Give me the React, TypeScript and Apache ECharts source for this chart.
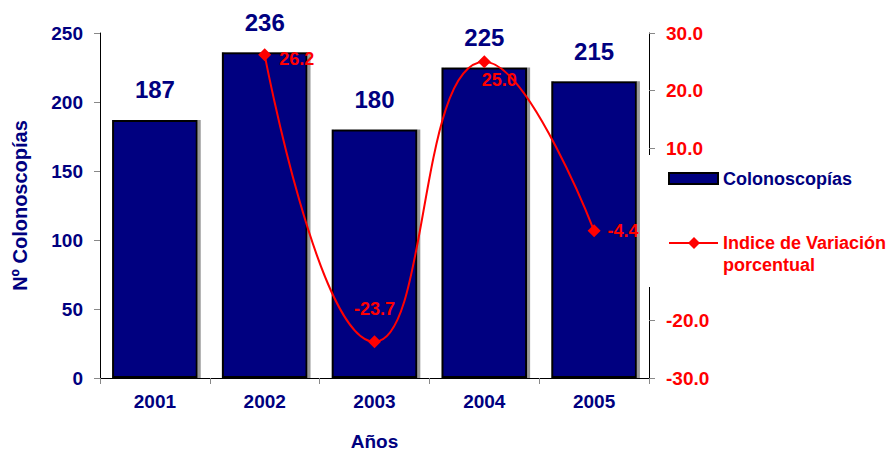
import React, { useEffect, useRef } from "react";
import * as echarts from "echarts";

const years = ["2001", "2002", "2003", "2004", "2005"];
const colonoscopias = [187, 236, 180, 225, 215];
const variacion: (number | null)[] = [null, 26.2, -23.7, 25.0, -4.4];
const leftTicks = { min: 0, max: 250, interval: 50 };
const rightTicks = { min: -30, max: 30, interval: 10 };

const NAVY = "#000080";
const RED = "#ff0000";
const FONT = "Liberation Sans, Arial, sans-serif";

export default function App() {
  const ref = useRef<HTMLDivElement>(null);
  useEffect(() => {
    if (!ref.current) return;
    document.body.style.margin = "0";
    document.body.style.overflow = "hidden";
    const chart = echarts.init(ref.current, undefined, { renderer: "svg" });
    const lineLabelPos: any[] = [
      {},
      { position: "right", distance: 8, offset: [0, 4] },
      { position: "top", distance: 17 },
      { position: "bottom", distance: 3, offset: [15, 0] },
      { position: "right", distance: 7 },
    ];
    chart.setOption({
      animation: false,
      backgroundColor: "#ffffff",
      textStyle: { fontFamily: FONT },
      grid: { left: 100, right: 244, top: 33, bottom: 75, outerBoundsMode: "none" },
      xAxis: {
        type: "category",
        data: years,
        name: "Años",
        nameLocation: "middle",
        nameGap: 54,
        nameTextStyle: { color: NAVY, fontWeight: "bold", fontSize: 19, fontFamily: FONT },
        axisLine: { lineStyle: { color: "#000", width: 1 } },
        axisTick: { show: true, length: 6, lineStyle: { color: "#888" } },
        axisLabel: { color: NAVY, fontWeight: "bold", fontSize: 19, margin: 14, fontFamily: FONT },
      },
      yAxis: [
        {
          type: "value",
          min: leftTicks.min,
          max: leftTicks.max,
          interval: leftTicks.interval,
          name: "Nº Colonoscopías",
          nameLocation: "middle",
          nameGap: 70,
          nameRotate: 90,
          nameTextStyle: { color: NAVY, fontWeight: "bold", fontSize: 20, fontFamily: FONT },
          axisLine: { show: true, lineStyle: { color: "#000", width: 1 } },
          axisTick: { show: true, length: 6, lineStyle: { color: "#888" } },
          axisLabel: { color: NAVY, fontWeight: "bold", fontSize: 19, margin: 17, fontFamily: FONT },
          splitLine: { show: false },
        },
        {
          type: "value",
          position: "right",
          min: rightTicks.min,
          max: rightTicks.max,
          interval: rightTicks.interval,
          axisLine: { show: true, lineStyle: { color: "#000", width: 1 } },
          axisTick: { show: true, length: 6, lineStyle: { color: "#888" } },
          axisLabel: {
            color: RED,
            fontWeight: "bold",
            fontSize: 19,
            margin: 17,
            fontFamily: FONT,
            formatter: (v: number) => v.toFixed(1),
          },
          splitLine: { show: false },
        },
      ],
      series: [
        {
          name: "Colonoscopías",
          type: "bar",
          yAxisIndex: 0,
          data: colonoscopias,
          barCategoryGap: "22%",
          itemStyle: {
            color: NAVY,
            borderColor: "#000",
            borderWidth: 2,
            shadowColor: "#999",
            shadowOffsetX: 3,
            shadowOffsetY: 0,
            shadowBlur: 0,
          },
          label: {
            show: true,
            position: "top",
            distance: 18,
            color: NAVY,
            fontWeight: "bold",
            fontSize: 24,
            fontFamily: FONT,
          },
          z: 2,
        },
        {
          name: "Indice de Variación porcentual",
          type: "line",
          yAxisIndex: 1,
          smooth: 0.5,
          data: variacion.map((v, i) => ({ value: v, label: lineLabelPos[i] })),
          symbol: "diamond",
          symbolSize: 13,
          lineStyle: { color: RED, width: 2 },
          itemStyle: { color: RED },
          label: {
            show: true,
            color: RED,
            fontWeight: "bold",
            fontSize: 18,
            fontFamily: FONT,
            formatter: (p: any) => (p.value == null ? "" : Number(p.value).toFixed(1)),
          },
          z: 3,
        },
      ],
      graphic: [
        { type: "rect", z: 100, shape: { x: 641, y: 155, width: 252, height: 132 }, style: { fill: "#ffffff" } },
        {
          type: "rect",
          z: 101,
          shape: { x: 669, y: 173, width: 49, height: 11 },
          style: { fill: NAVY, stroke: "#000", lineWidth: 2 },
        },
        {
          type: "text",
          z: 101,
          x: 723,
          y: 179,
          style: {
            text: "Colonoscopías",
            fill: NAVY,
            font: `bold 18px ${FONT}`,
            verticalAlign: "middle",
          },
        },
        {
          type: "line",
          z: 101,
          shape: { x1: 669, y1: 243, x2: 718, y2: 243 },
          style: { stroke: RED, lineWidth: 2 },
        },
        {
          type: "polygon",
          z: 102,
          shape: { points: [[694, 237], [700, 243], [694, 249], [688, 243]] },
          style: { fill: RED },
        },
        {
          type: "text",
          z: 101,
          x: 723,
          y: 243,
          style: {
            text: "Indice de Variación",
            fill: RED,
            font: `bold 18px ${FONT}`,
            verticalAlign: "middle",
          },
        },
        {
          type: "text",
          z: 101,
          x: 723,
          y: 265,
          style: {
            text: "porcentual",
            fill: RED,
            font: `bold 18px ${FONT}`,
            verticalAlign: "middle",
          },
        },
      ],
    });
    return () => chart.dispose();
  }, []);
  return <div ref={ref} style={{ width: 893, height: 453 }} />;
}
